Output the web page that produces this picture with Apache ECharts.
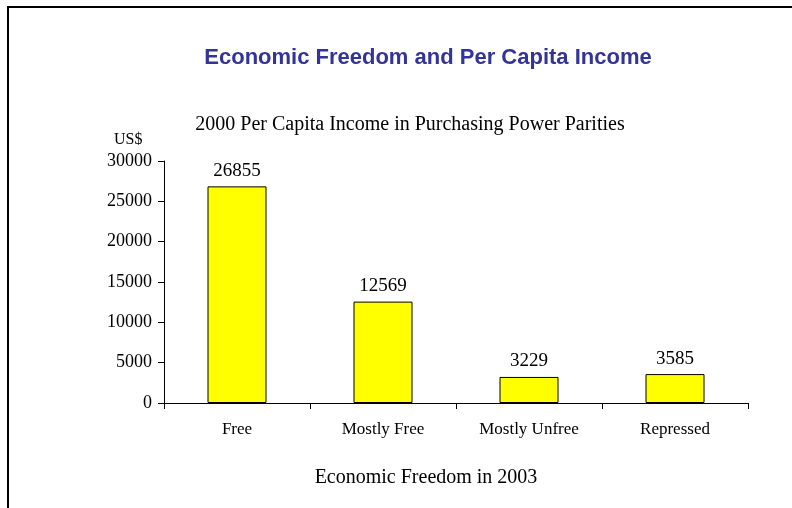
<!DOCTYPE html>
<html>
<head>
<meta charset="utf-8">
<script src="https://cdn.jsdelivr.net/npm/echarts@6/dist/echarts.min.js"></script>
<style>
  html, body { margin: 0; padding: 0; background: #fff; }
  #chart { width: 792px; height: 508px; }
</style>
</head>
<body>
<div id="chart"></div>
<script>
// Data
const categories = ["Free", "Mostly Free", "Mostly Unfree", "Repressed"];
const incomes = [26855, 12569, 3229, 3585];

const SERIF = "'Liberation Serif', 'Times New Roman', serif";
const SANS = "'Liberation Sans', Arial, sans-serif";

const chart = echarts.init(document.getElementById("chart"), null, { renderer: "canvas" });

chart.setOption({
  animation: false,
  backgroundColor: "#fff",
  title: [
    {
      text: "Economic Freedom and Per Capita Income",
      left: 423, top: 42, textAlign: "center",
      textStyle: { fontFamily: SANS, fontSize: 22, fontWeight: "bold", color: "#333399" },
    },
    {
      text: "2000 Per Capita Income in Purchasing Power Parities",
      left: 405, top: 110, textAlign: "center",
      textStyle: { fontFamily: SERIF, fontSize: 20, fontWeight: "normal", color: "#000" },
    },
    {
      text: "US$",
      left: 109, top: 127,
      textStyle: { fontFamily: SERIF, fontSize: 16, fontWeight: "normal", color: "#000" },
    },
    {
      text: "Economic Freedom in 2003",
      left: 421, top: 463, textAlign: "center",
      textStyle: { fontFamily: SERIF, fontSize: 20, fontWeight: "normal", color: "#000" },
    },
  ],
  grid: { left: 164, right: 44, top: 161, bottom: 105 },
  xAxis: {
    type: "category",
    data: categories,
    axisLine: { lineStyle: { color: "#000", width: 1 } },
    axisTick: { show: true, length: 6, lineStyle: { color: "#000" } },
    axisLabel: { fontFamily: SERIF, fontSize: 17, color: "#000", margin: 18 },
  },
  yAxis: {
    type: "value",
    min: 0, max: 30000, interval: 5000,
    axisLine: { show: true, lineStyle: { color: "#000", width: 1 } },
    axisTick: { show: true, length: 6, lineStyle: { color: "#000" } },
    axisLabel: { fontFamily: SERIF, fontSize: 18, color: "#000", margin: 12, formatter: v => String(v) },
    splitLine: { show: false },
  },
  series: [{
    type: "bar",
    data: incomes,
    barWidth: 59,
    itemStyle: { color: "#FFFF00", borderColor: "#000", borderWidth: 1 },
    label: {
      show: true, position: "top", distance: 6,
      fontFamily: SERIF, fontSize: 19, color: "#000",
    },
  }],
  graphic: [
    { type: "line", shape: { x1: 8, y1: 7, x2: 792, y2: 7 }, style: { stroke: "#000", lineWidth: 2 } },
    { type: "line", shape: { x1: 8, y1: 6, x2: 8, y2: 508 }, style: { stroke: "#000", lineWidth: 2 } },
  ],
});
</script>
</body>
</html>
